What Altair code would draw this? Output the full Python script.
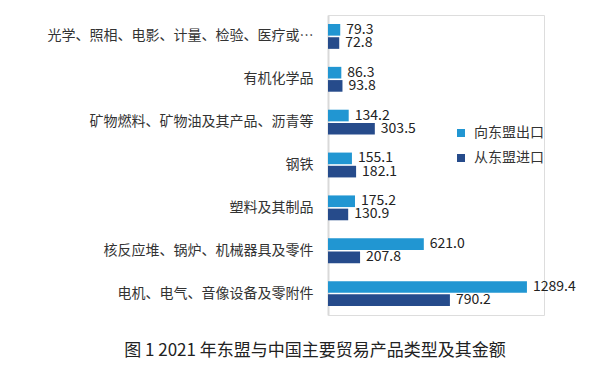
import altair as alt
import pandas as pd

categories = [
    "光学、照相、电影、计量、检验、医疗或…",
    "有机化学品",
    "矿物燃料、矿物油及其产品、沥青等",
    "钢铁",
    "塑料及其制品",
    "核反应堆、锅炉、机械器具及零件",
    "电机、电气、音像设备及零附件",
]
series = ["向东盟出口", "从东盟进口"]
export_vals = [79.3, 86.3, 134.2, 155.1, 175.2, 621.0, 1289.4]
import_vals = [72.8, 93.8, 303.5, 182.1, 130.9, 207.8, 790.2]
colors = ["#2196d2", "#264b8b"]
title_text = "图 1 2021 年东盟与中国主要贸易产品类型及其金额"

rows = []
for c, e, i in zip(categories, export_vals, import_vals):
    rows.append({"cat": c, "series": series[0], "value": e})
    rows.append({"cat": c, "series": series[1], "value": i})
df = pd.DataFrame(rows)

FONT = "Noto Sans CJK SC"

y_enc = alt.Y("cat:N", sort=categories,
              scale=alt.Scale(paddingInner=0.42, paddingOuter=0.21),
              axis=alt.Axis(title=None, ticks=False, labelPadding=15,
                            labelFontSize=14, labelFont=FONT, labelColor="#333333",
                            labelLimit=400, domainColor="#d9d9d9", domainWidth=2,
                            grid=False))
yoff_enc = alt.YOffset("series:N", sort=series,
                       scale=alt.Scale(paddingInner=0.12, paddingOuter=0))
x_enc = alt.X("value:Q", scale=alt.Scale(domain=[0, 1400], nice=False), axis=None)

base = alt.Chart(df)

bars = base.mark_bar().encode(
    y=y_enc,
    yOffset=yoff_enc,
    x=x_enc,
    color=alt.Color("series:N", sort=series,
                    scale=alt.Scale(domain=series, range=colors),
                    legend=alt.Legend(title=None, orient="none", legendX=126, legendY=111,
                                      symbolType="square", symbolSize=64,
                                      symbolStrokeWidth=0,
                                      labelFontSize=14, labelFont=FONT,
                                      labelColor="#333333", labelOffset=6,
                                      rowPadding=11, padding=0)),
)

labels = base.mark_text(align="left", baseline="middle", dx=6, fontSize=14,
                        font=FONT, color="#222222").encode(
    y=alt.Y("cat:N", sort=categories),
    yOffset=alt.YOffset("series:N", sort=series),
    x=alt.X("value:Q"),
    text=alt.Text("value:Q", format=".1f"),
)

chart = alt.layer(bars, labels).properties(
    width=216,
    height=300,
    autosize=alt.AutoSizeParams(type="none"),
    padding={"left": 320, "top": 7, "right": 51, "bottom": 50},
    title=alt.TitleParams(title_text, orient="bottom", anchor="middle", frame="group",
                          dx=-121, offset=28, fontSize=17, font=FONT,
                          fontWeight="normal", color="#222222", baseline="top"),
).configure_view(stroke=None).configure(background="white")

chart.save("out.html", embed_options={"renderer": "svg", "actions": False})
